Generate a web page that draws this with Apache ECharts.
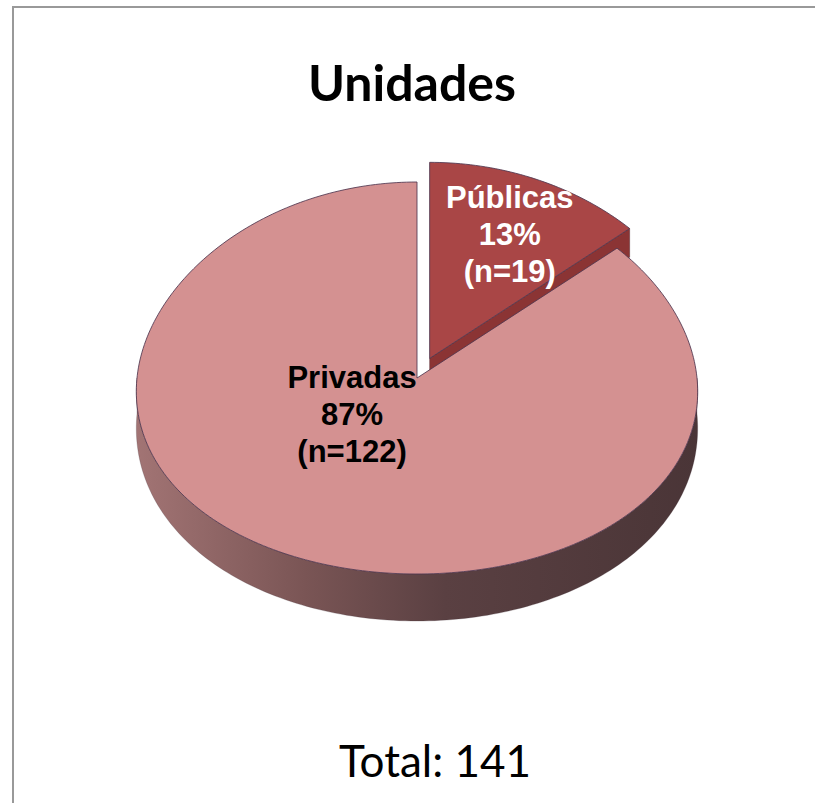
<!DOCTYPE html>
<html>
<head>
<meta charset="utf-8">
<script src="https://cdn.jsdelivr.net/npm/echarts@6/dist/echarts.min.js"></script>
<style>
  html, body { margin: 0; padding: 0; background: #fff; }
  #chart { width: 815px; height: 803px; }
</style>
</head>
<body>
<div id="chart"></div>
<script>
// data
const categories = ['Públicas', 'Privadas'];
const counts = [19, 122];
const titleText = 'Unidades';
const totalText = 'Total: 141';

// look
const topColors = ['#A94646', '#D49191'];
const cutColors = ['#8B3434', '#7a5050'];
const wallStops = [
    [['#8a3a3a', 0], ['#5a2626', 1]],
    [['#a27474', 0], ['#7a5555', 0.3], ['#5a4042', 0.55], ['#4a3537', 1]]
];
const explode = [0.11, 0];
const labelAt = [[0.286, -0.633], [-0.232, 0.185]];
const labelColors = ['#ffffff', '#000000'];

const CX = 417, CY = 378, RX = 280, RY = 196;
const depth = v => 36 + 11 * v;
const persp = v => 1 + 0.07 * v;

const total = counts.reduce((a, b) => a + b, 0);

function pt(ox, oy, a, r) {
    const v = -Math.cos(a) * r;
    return [ox + persp(v) * RX * r * Math.sin(a), oy - RY * r * Math.cos(a)];
}
function arc(ox, oy, a0, a1, down) {
    const pts = [];
    const n = Math.max(2, Math.ceil((a1 - a0) / 0.02));
    for (let i = 0; i <= n; i++) {
        const a = a0 + (a1 - a0) * i / n;
        const p = pt(ox, oy, a, 1);
        if (down) p[1] += depth(-Math.cos(a));
        pts.push(p);
    }
    return pts;
}

const chart = echarts.init(document.getElementById('chart'), null, { renderer: 'svg' });

chart.setOption({
    animation: false,
    graphic: [
        { type: 'polyline', shape: { points: [[13, 803], [13, 7], [815, 7]] },
          style: { stroke: '#999', lineWidth: 2, fill: null } },
        { type: 'text', x: 412, y: 82, style: { text: titleText, font: 'bold 50px Lato',
          fill: '#000', textAlign: 'center', textVerticalAlign: 'middle' } },
        { type: 'text', x: 435, y: 760, style: { text: totalText, font: '44px Lato',
          fill: '#000', textAlign: 'center', textVerticalAlign: 'middle' } }
    ],
    series: [{
        type: 'custom',
        coordinateSystem: 'none',
        data: categories.map((c, i) => ({ name: c, value: counts[i] })),
        renderItem: function (params, api) {
            const i = params.dataIndex;
            let before = 0;
            for (let j = 0; j < i; j++) before += counts[j];
            const a0 = before / total * Math.PI * 2;
            const a1 = (before + api.value(0)) / total * Math.PI * 2;
            const mid = (a0 + a1) / 2;
            const ox = CX + explode[i] * RX * Math.sin(mid);
            const oy = CY - explode[i] * RY * Math.cos(mid);
            const kids = [];

            // cut faces
            const cut = a => {
                const p = pt(ox, oy, a, 1);
                const dp = depth(-Math.cos(a));
                const d0 = depth(0);
                kids.push({ type: 'polygon',
                    shape: { points: [[ox, oy], p, [p[0], p[1] + dp], [ox, oy + d0]] },
                    style: { fill: cutColors[i], stroke: 'rgba(70,40,50,0.5)', lineWidth: 0.8 } });
            };
            if (Math.sin(a1) > 0.01) cut(a1);
            if (Math.sin(a0) < -0.01) cut(a0);

            // outer wall, front half only
            const w0 = Math.max(a0, Math.PI / 2), w1 = Math.min(a1, Math.PI * 1.5);
            if (w1 > w0) {
                const up = arc(ox, oy, w0, w1, false);
                const dn = arc(ox, oy, w0, w1, true).reverse();
                kids.push({ type: 'polygon', shape: { points: up.concat(dn) },
                    style: { fill: { type: 'linear', x: CX - RX, y: 0, x2: CX + RX, y2: 0, global: true,
                        colorStops: wallStops[i].map(s => ({ offset: s[1], color: s[0] })) },
                        stroke: 'rgba(70,50,60,0.4)', lineWidth: 0.6 } });
            }

            // top face
            kids.push({ type: 'polygon',
                shape: { points: [[ox, oy]].concat(arc(ox, oy, a0, a1, false)) },
                style: { fill: topColors[i], stroke: 'rgba(80,55,80,0.85)', lineWidth: 1 } });

            const pct = Math.round(api.value(0) / total * 100);
            kids.push({ type: 'text', z2: 100,
                x: ox + labelAt[i][0] * RX, y: oy + labelAt[i][1] * RY,
                style: { text: categories[i] + '\n' + pct + '%\n(n=' + api.value(0) + ')',
                    font: 'bold 31px "Liberation Sans", Arial', lineHeight: 37,
                    fill: labelColors[i], textAlign: 'center', textVerticalAlign: 'middle' } });

            return { type: 'group', children: kids };
        }
    }]
});
</script>
</body>
</html>
